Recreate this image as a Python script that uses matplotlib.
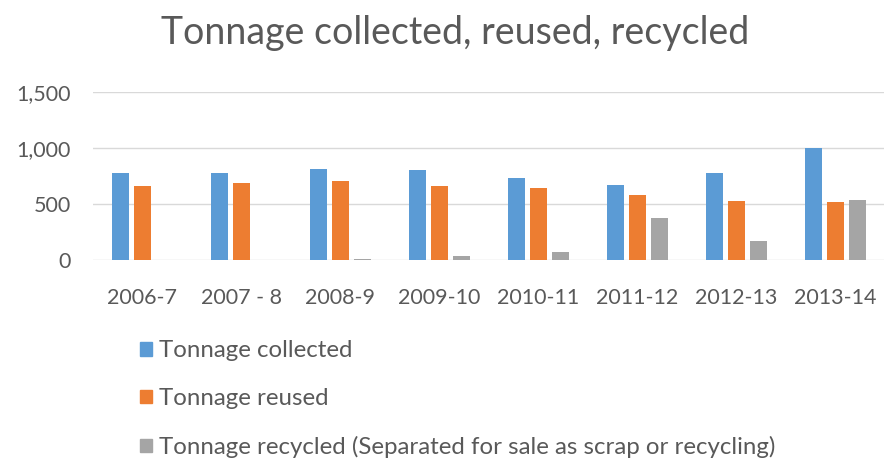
"""Tonnage collected, reused, recycled -- clustered bar chart in Office style."""

import matplotlib.pyplot as plt
import numpy as np
from matplotlib.patches import Patch
from matplotlib.ticker import FuncFormatter

YEARS = ["2006-7", "2007 - 8", "2008-9", "2009-10", "2010-11", "2011-12", "2012-13", "2013-14"]
COLLECTED = [781, 776, 815, 806, 731, 671, 781, 1000]
REUSED = [665, 687, 707, 665, 642, 582, 528, 516]
RECYCLED = [0, 0, 10, 36, 75, 373, 173, 537]

LABELS = [
    "Tonnage collected",
    "Tonnage reused",
    "Tonnage recycled (Separated for sale as scrap or recycling)",
]
COLORS = ["#5B9BD5", "#ED7D31", "#A5A5A5"]
TEXT = "#595959"

plt.rcParams["font.family"] = ["Lato", "DejaVu Sans"]

fig = plt.figure(figsize=(8.84, 4.61), dpi=100)
ax = fig.add_axes([0.105, 0.436, 0.895, 0.364])

x = np.arange(len(YEARS))
w = 0.17
off = 0.222
for i, (vals, col) in enumerate(zip([COLLECTED, REUSED, RECYCLED], COLORS)):
    ax.bar(x + (i - 1) * off, vals, width=w, color=col, zorder=3)

ax.set_xlim(-0.5, 7.49)
ax.set_ylim(0, 1500)
ax.set_yticks([0, 500, 1000, 1500])
ax.yaxis.set_major_formatter(FuncFormatter(lambda v, _: f"{int(v):,}"))
ax.set_xticks(x)
ax.set_xticklabels(YEARS)
ax.grid(axis="y", color="#D9D9D9", linewidth=1, zorder=0)
for s in ax.spines.values():
    s.set_visible(False)
ax.tick_params(length=0, labelsize=15.5, colors=TEXT)
ax.tick_params(axis="x", pad=20)
ax.tick_params(axis="y", pad=16)

fig.text(0.515, 0.928, "Tonnage collected, reused, recycled", ha="center", va="center",
         fontsize=27, color=TEXT)

handles = [Patch(color=c) for c in COLORS]
leg = fig.legend(handles, LABELS, loc="upper left", bbox_to_anchor=(0.158, 0.262),
                 frameon=False, fontsize=17.3, handlelength=0.5, handleheight=0.5,
                 handletextpad=0.3, labelspacing=1.12, borderaxespad=0, borderpad=0)
for t in leg.get_texts():
    t.set_color(TEXT)

fig.savefig("out.png", dpi=100)
